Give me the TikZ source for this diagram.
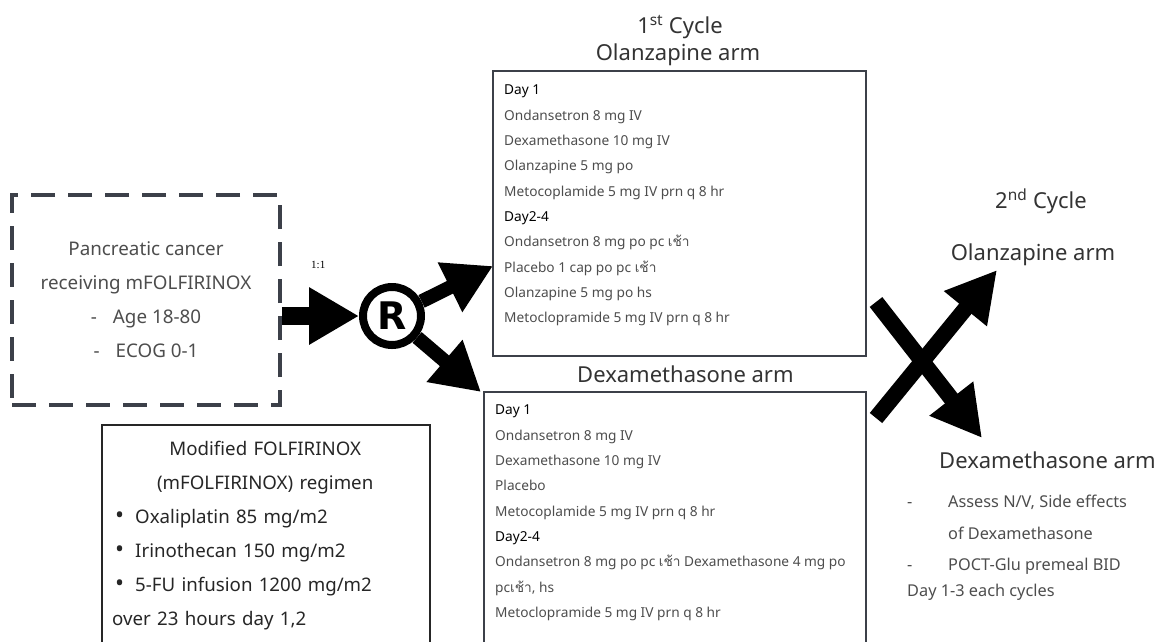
\documentclass[tikz,border=0pt]{standalone}
\usepackage{fontspec}
\setmainfont{Noto Sans}
\newfontfamily\thaifont[Script=Thai]{Loma}
\newfontfamily\ratiofont{Liberation Serif}
\newfontfamily\rfont{DejaVu Sans}
\usetikzlibrary{arrows.meta,positioning}
\definecolor{framegray}{HTML}{3C4049}
\definecolor{textgray}{HTML}{4D4D4D}
\definecolor{headgray}{HTML}{333333}
\newcommand{\chao}{{\thaifont เช้า}}
\newcommand{\regdot}{\hspace*{3pt}\raisebox{0.5pt}{\fontsize{24}{24}\selectfont\textbullet}\hspace{11pt}}
\tikzset{
  armframe/.style={draw=framegray,line width=1.6pt,anchor=north west,inner sep=0pt},
  druglist/.style={anchor=north west,inner sep=0pt,align=left,text=textgray,
    font=\fontsize{13.7}{25.3}\selectfont},
  armhead/.style={text=headgray,inner sep=0pt,font=\fontsize{22}{26}\selectfont},
  patbox/.style={draw=framegray,line width=3.5pt,dash pattern=on 24pt off 13pt,
    minimum width=268pt,minimum height=210pt,align=center,text=textgray,
    font=\fontsize{18.8}{34}\selectfont},
  rcircle/.style={circle,draw,line width=8pt,minimum size=58pt,inner sep=0pt,
    font=\rfont\bfseries\fontsize{38}{38}\selectfont},
  fatarrow/.style={line width=18pt,-{Triangle[length=50pt,width=54pt]}},
  midarrow/.style={line width=14pt,-{Triangle[length=48pt,width=52pt]}},
  crossarrow/.style={line width=16pt,-{Triangle[length=50pt,width=52pt]}},
}
\begin{document}
\begin{tikzpicture}[x=1pt,y=-1pt]
\useasboundingbox (0,0) rectangle (1156,641);
% patients and randomisation
\node[patbox] (pat) at (146,300) {Pancreatic cancer\\receiving mFOLFIRINOX\\
  -\hspace{16pt}Age 18-80\\-\hspace{16pt}ECOG 0-1};
\node[rcircle] (rnd) at (392,316) {R};
\node[anchor=base west,inner sep=0pt,font=\ratiofont\fontsize{11}{11}\selectfont] (ratio) at (311,268) {1:1};
\draw[fatarrow] (pat.east |- rnd) -- (rnd);
% 1st cycle
\node[armhead,anchor=base] (cyc1) at (680,33) {1\textsuperscript{st} Cycle};
\node[armhead,anchor=base] (olzhead) at (678,60) {Olanzapine arm};
\node[armframe,minimum width=373pt,minimum height=285pt] (olz) at (492,70) {};
\node[druglist] (olzlist) at (504,85) {\textcolor{black}{\textbf{Day 1}}\\
  Ondansetron 8 mg IV\\Dexamethasone 10 mg IV\\Olanzapine 5 mg po\\
  Metocoplamide 5 mg IV prn q 8 hr\\\textcolor{black}{\textbf{Day2-4}}\\
  Ondansetron 8 mg po pc \chao\\Placebo 1 cap po pc \chao\\
  Olanzapine 5 mg po hs\\Metoclopramide 5 mg IV prn q 8 hr};
\node[armhead,anchor=base west] (dexhead) at (577,382) {Dexamethasone arm};
\node[armframe,minimum width=382pt,minimum height=265pt] (dex) at (483,391) {};
\node[druglist] (dexlist) at (495,405) {\textcolor{black}{\textbf{Day 1}}\\
  Ondansetron 8 mg IV\\Dexamethasone 10 mg IV\\Placebo\\
  Metocoplamide 5 mg IV prn q 8 hr\\\textcolor{black}{\textbf{Day2-4}}\\
  Ondansetron 8 mg po pc \chao{} Dexamethasone 4 mg po\\pc\chao, hs\\
  Metoclopramide 5 mg IV prn q 8 hr};
\coordinate (olzin) at (493,266);
\coordinate (dexin) at (481,392);
\draw[midarrow] (rnd) -- (olzin);
\draw[midarrow] (rnd) -- (dexin);
% regimen
\node[armframe,draw=black!85,line width=2pt,minimum width=328pt,minimum height=240pt] (reg) at (101,424) {};
\node[anchor=north west,inner sep=0pt,text width=306pt,text=black!85,
  font=\fontsize{18.7}{34}\selectfont] (regtext) at (112,441) {%
  \makebox[\linewidth]{Modified FOLFIRINOX}\\
  \makebox[\linewidth]{(mFOLFIRINOX) regimen}\\
  \regdot Oxaliplatin 85 mg/m2\\
  \regdot Irinothecan 150 mg/m2\\
  \regdot 5-FU infusion 1200 mg/m2\\
  over 23 hours day 1,2};
% 2nd cycle
\node[armhead,anchor=base] (cyc2) at (1041,208) {2\textsuperscript{nd} Cycle};
\node[armhead,anchor=base] (olz2) at (1033,260) {Olanzapine arm};
\node[armhead,anchor=base west] (dex2) at (939,468) {Dexamethasone arm};
\coordinate (xa1) at (876,418);
\coordinate (xb1) at (997,270);
\coordinate (xa2) at (876,302);
\coordinate (xb2) at (982,438);
\draw[crossarrow] (xa1) -- (xb1);
\draw[crossarrow] (xa2) -- (xb2);
\node[anchor=north west,inner sep=0pt,align=left,text=textgray,
  font=\fontsize{16.3}{31.5}\selectfont] (assess) at (907,495) {%
  \makebox[41pt][l]{-}Assess N/V, Side effects\\
  \hspace*{41pt}of Dexamethasone\\
  \makebox[41pt][l]{-}POCT-Glu premeal BID\\[-6pt]
  Day 1-3 each cycles};
\end{tikzpicture}
\end{document}
